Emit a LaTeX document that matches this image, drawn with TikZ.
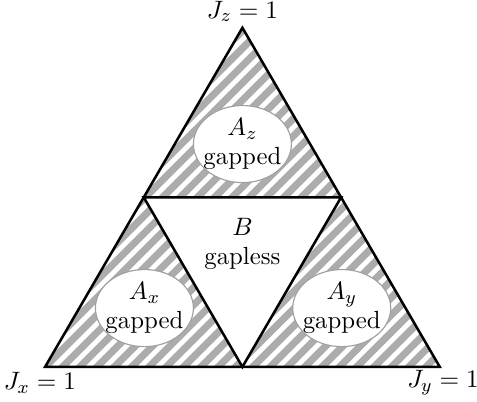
\documentclass[tikz,border=0pt]{standalone}
\usetikzlibrary{calc,shapes.geometric}
\definecolor{stripeGray}{RGB}{172, 172, 172}
\definecolor{ovalGray}{RGB}{160, 160, 160}

\begin{document}
\begin{tikzpicture}[
  font=\fontsize{10.8}{12.4}\selectfont,
  edge/.style={line width=1.1pt,black,line join=miter},
  stripe/.style={line width=3.1pt,stripeGray},
  phase/.style={ellipse,draw=ovalGray,line width=0.5pt,fill=white,minimum width=1.5cm,minimum height=1.18cm,inner xsep=-0.25cm,inner ysep=-0.2cm,align=center}
]
  \useasboundingbox (-0.69,-0.535) rectangle (6.61,5.615);
  % corners of the phase diagram
  \coordinate (jx) at (0,0);
  \coordinate (jy) at (6.04,0);
  \coordinate (jz) at (3.02,5.19);
  \coordinate (mxy) at ($(jx)!0.5!(jy)$);
  \coordinate (myz) at ($(jy)!0.5!(jz)$);
  \coordinate (mzx) at ($(jz)!0.5!(jx)$);
  % hatching
  \begin{scope}
    \clip (jx) -- (jz) -- (jy) -- cycle;
    \foreach \i in {-30,...,30}
      \draw[stripe] (\i*0.265,0) ++(-7,-7) -- ++(14,14);
  \end{scope}
  \fill[white] (mxy) -- (myz) -- (mzx) -- cycle;
  \draw[edge] (jx) -- (jz) -- (jy) -- cycle;
  \draw[edge] (mxy) -- (myz) -- (mzx) -- cycle;
  % labels
  \node (lz) at ($(jz)+(0,0.25)$) {$J_z=1$};
  \node (lx) at ($(jx)+(-0.08,-0.24)$) {$J_x=1$};
  \node (ly) at ($(jy)+(0.05,-0.24)$) {$J_y=1$};
  \node[phase] (az) at ($(jz)+(0,-1.78)$) {$A_z$\\gapped};
  \node[phase] (ax) at ($(jx)+(1.52,0.9)$) {$A_x$\\gapped};
  \node[phase] (ay) at ($(ax)+(3.02,0)$) {$A_y$\\gapped};
  \node[align=center] (b) at ($(mxy)+(0,1.88)$) {$B$\\gapless};
\end{tikzpicture}
\end{document}
